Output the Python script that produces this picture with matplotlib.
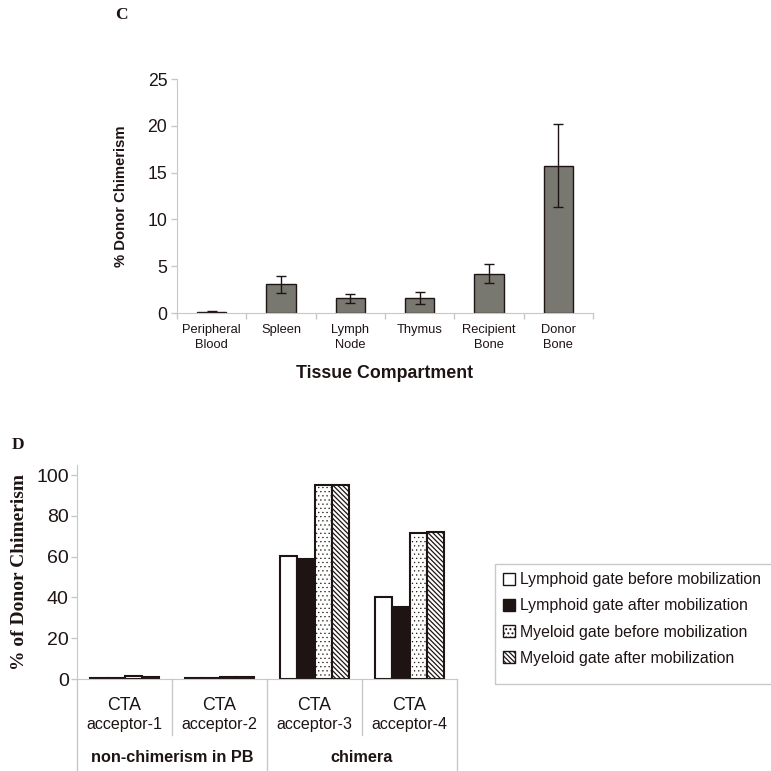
import matplotlib
matplotlib.use("Agg")
import matplotlib.pyplot as plt
import numpy as np
from matplotlib.patches import Rectangle, Patch

plt.rcParams['font.family'] = ['Liberation Sans', 'DejaVu Sans']

# panel C data
tissues = ['Peripheral\nBlood', 'Spleen', 'Lymph\nNode', 'Thymus', 'Recipient\nBone', 'Donor\nBone']
chim_mean = [0.1, 3.07, 1.6, 1.6, 4.2, 15.75]
chim_err = [0.07, 0.93, 0.48, 0.64, 1.04, 4.45]

# panel D data
acceptors = ['acceptor-1', 'acceptor-2', 'acceptor-3', 'acceptor-4']
groups = ['non-chimerism in PB', 'chimera']
series_names = ['Lymphoid gate before mobilization', 'Lymphoid gate after mobilization',
                'Myeloid gate before mobilization', 'Myeloid gate after mobilization']
lymph_before = [0.6, 0.5, 60.2, 40.3]
lymph_after = [0.6, 0.5, 58.7, 35.1]
myeloid_before = [1.7, 1.2, 95.1, 71.6]
myeloid_after = [1.2, 0.8, 95.1, 72.3]

W = 771.0
fig = plt.figure(figsize=(7.71, 7.71), dpi=100)
ink = '#1e1414'
grey = '#c8c8c8'


def px_axes(l, t, r, b):
    return fig.add_axes([l / W, 1 - b / W, (r - l) / W, (b - t) / W])


# ---- panel C ----
axc = px_axes(177, 79, 593, 313)
x = np.arange(len(tissues))
axc.bar(x, chim_mean, width=0.42, color='#787870', edgecolor=ink, linewidth=1.0)
axc.errorbar(x, chim_mean, yerr=chim_err, fmt='none', ecolor=ink, elinewidth=1.0,
             capsize=3.5, capthick=1.0)
axc.set_xlim(-0.5, 5.5)
axc.set_ylim(0, 25)
axc.set_yticks([0, 5, 10, 15, 20, 25])
axc.tick_params(axis='y', labelsize=12.7, colors=grey, labelcolor=ink, length=4, width=1, pad=3)
axc.set_xticks(x)
axc.set_xticklabels(tissues, fontsize=9.3, color=ink, linespacing=1.3)
axc.tick_params(axis='x', which='major', length=0, pad=8)
axc.set_xticks(np.arange(-0.5, 6, 1), minor=True)
axc.tick_params(axis='x', which='minor', length=4, color=grey, width=1)
for s in ['top', 'right']:
    axc.spines[s].set_visible(False)
for s in ['left', 'bottom']:
    axc.spines[s].set_color(grey)
axc.set_ylabel('% Donor Chimerism', fontsize=10.7, fontweight='bold', color=ink, labelpad=14)
axc.set_xlabel('Tissue Compartment', fontsize=12.8, fontweight='bold', color=ink, labelpad=10)
fig.text(121 / W, 1 - 15 / W, 'C', fontsize=12.5, fontweight='bold', family='Liberation Serif',
         color=ink, ha='center', va='center')

# ---- panel D ----
axd = px_axes(77, 465, 457, 679)
xd = np.arange(len(acceptors))
bw = 0.18
# hatch linewidth is taken when the patch is made, so set it per series
styles = [dict(color='white', hatch=None, hlw=1.0), dict(color=ink, hatch=None, hlw=1.0),
          dict(color='white', hatch='....', hlw=0.4), dict(color='white', hatch='\\' * 7, hlw=0.9)]
vals = [lymph_before, lymph_after, myeloid_before, myeloid_after]
handles = []
for i, (v, st) in enumerate(zip(vals, styles)):
    plt.rcParams['hatch.linewidth'] = st['hlw']
    axd.bar(xd + (i - 1.5) * bw, v, width=bw, color=st['color'], edgecolor=ink,
            hatch=st['hatch'], linewidth=1.5)
    handles.append(Patch(facecolor=st['color'], edgecolor=ink, hatch=st['hatch'], linewidth=1.0))
axd.set_xlim(-0.5, 3.5)
axd.set_ylim(0, 105)
axd.set_yticks([0, 20, 40, 60, 80, 100])
axd.tick_params(axis='y', labelsize=14, colors=grey, labelcolor=ink, length=4, width=1, pad=2)
axd.set_xticks([])
for s in ['top', 'right']:
    axd.spines[s].set_visible(False)
for s in ['left', 'bottom']:
    axd.spines[s].set_color(grey)
axd.set_ylabel('% of Donor Chimerism', fontsize=14, fontweight='bold', family='Liberation Serif',
               color=ink, labelpad=6)

tr = axd.get_xaxis_transform()
h = 214.0
for xb, depth in [(-0.5, 92), (0.5, 56), (1.5, 92), (2.5, 56), (3.5, 92)]:
    axd.plot([xb, xb], [0, -depth / h], transform=tr, color=grey, lw=1, clip_on=False)
for i, name in enumerate(acceptors):
    axd.text(i, -27 / h, 'CTA', transform=tr, ha='center', va='center', fontsize=12.8, color=ink)
    axd.text(i, -45 / h, name, transform=tr, ha='center', va='center', fontsize=11.6, color=ink)
for i, g in enumerate(groups):
    axd.text(0.5 + 2 * i, -79 / h, g, transform=tr, ha='center', va='center', fontsize=11.7,
             fontweight='bold', color=ink)
fig.text(18 / W, 1 - 445 / W, 'D', fontsize=12.5, fontweight='bold', family='Liberation Serif',
         color=ink, ha='center', va='center')

# legend box, cut off at the right edge like the original
fig.patches.append(Rectangle((495 / W, 1 - 684 / W), 300 / W, 120 / W, transform=fig.transFigure,
                             facecolor='none', edgecolor=grey, lw=1))
fig.legend(handles, series_names, loc='upper left', bbox_to_anchor=(497 / W, 1 - 566 / W),
           frameon=False, fontsize=11.4, handlelength=0.75, handleheight=0.75,
           handletextpad=0.3, labelspacing=0.7, borderaxespad=0, labelcolor=ink)

fig.savefig('out.png', dpi=100)
